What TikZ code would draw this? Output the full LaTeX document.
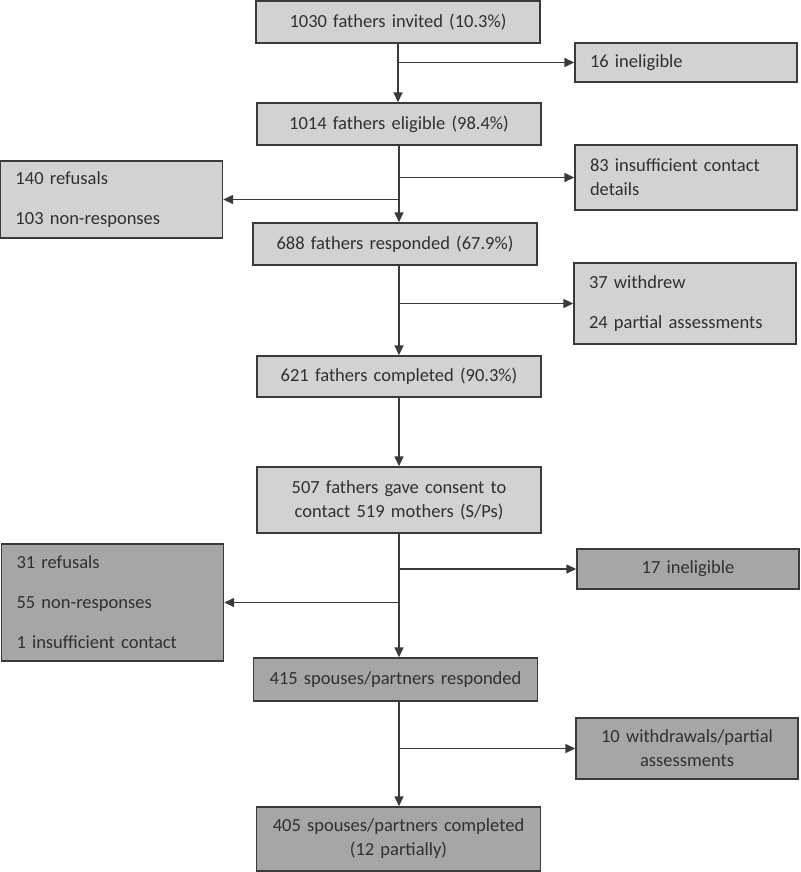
\documentclass[tikz,border=0pt]{standalone}
\usepackage{fontspec}
\setmainfont{Carlito}
\usepackage{xcolor}
\usepackage{tikz}
\usetikzlibrary{arrows.meta}

\definecolor{boxline}{HTML}{3A3A3A}
\definecolor{boxtext}{HTML}{303030}
\definecolor{lightfill}{HTML}{D2D2D2}
\definecolor{darkfill}{HTML}{A6A6A6}

\tikzset{
  box/.style={draw=boxline, line width=1.4pt, inner sep=0pt, text=boxtext,
    font=\fontsize{18.5}{24}\selectfont},
  main/.style={box, minimum width=284pt, text width=260pt, align=center},
  side/.style={box, minimum width=222pt, text width=192pt, align=left},
  sidec/.style={side, align=center},
  light/.style={fill=lightfill},
  dark/.style={fill=darkfill},
  flow/.style={draw=boxline, line width=1.4pt, -{Triangle[length=10pt,width=9pt]}}
}

\begin{document}
\begin{tikzpicture}[x=1pt, y=-1pt]
    \useasboundingbox (0,0) rectangle (800,872);

    % fathers
    \node[main, light, minimum height=42pt] (inv) at (398,22) {1030 fathers invited (10.3\%)};
    \node[side, light, minimum height=39pt] (inel) at (686,62.5) {16 ineligible};
    \node[main, light, minimum height=42pt] (elig) at (399,124) {1014 fathers eligible (98.4\%)};
    \node[side, light, minimum height=77pt] (refu) at (111.5,199.5) {140 refusals\\[16pt]103 non-responses};
    \node[side, light, minimum height=65pt] (cont) at (686,177.5) {83 insufficient contact details};
    \node[main, light, minimum height=42pt] (resp) at (395,244) {688 fathers responded (67.9\%)};
    \node[side, light, minimum height=81pt] (withd) at (685,303.5) {37 withdrew\\[16pt]24 partial assessments};
    \node[main, light, minimum height=41pt] (compl) at (399,376.5) {621 fathers completed (90.3\%)};
    \node[main, light, minimum height=66pt] (cons) at (399,500) {507 fathers gave consent to\\contact 519 mothers (S/Ps)};

    % spouses/partners
    \node[side, dark, minimum height=117pt] (srefu) at (112.5,602.5) {31 refusals\\[16pt]55 non-responses\\[16pt]1 insufficient contact};
    \node[sidec, dark, minimum height=40pt] (sinel) at (688,569) {17 ineligible};
    \node[main, dark, minimum height=43pt] (sresp) at (395.5,679.5) {415 spouses/partners responded};
    \node[sidec, dark, minimum height=61pt] (swith) at (687,748.5) {10 withdrawals/partial\\assessments};
    \node[main, dark, minimum height=64pt] (scompl) at (398.5,839) {405 spouses/partners completed\\(12 partially)};

    % trunk
    \draw[flow] (inv.south) -- (inv.south |- elig.north);
    \draw[flow] (elig.south) -- (elig.south |- resp.north);
    \draw[flow] (elig.south |- resp.south) -- (elig.south |- compl.north);
    \draw[flow] (compl.south) -- (compl.south |- cons.north);
    \draw[flow] (cons.south) -- (cons.south |- sresp.north);
    \draw[flow] (cons.south |- sresp.south) -- (cons.south |- scompl.north);

    % branches
    \draw[flow] (inv.south |- inel.west) -- (inel.west);
    \draw[flow] (elig.south |- cont.west) -- (cont.west);
    \draw[flow] (elig.south |- refu.east) -- (refu.east);
    \draw[flow] (elig.south |- withd.west) -- (withd.west);
    \draw[flow] (cons.south |- sinel.west) -- (sinel.west);
    \draw[flow] (cons.south |- srefu.east) -- (srefu.east);
    \draw[flow] (cons.south |- swith.west) -- (swith.west);
\end{tikzpicture}
\end{document}
